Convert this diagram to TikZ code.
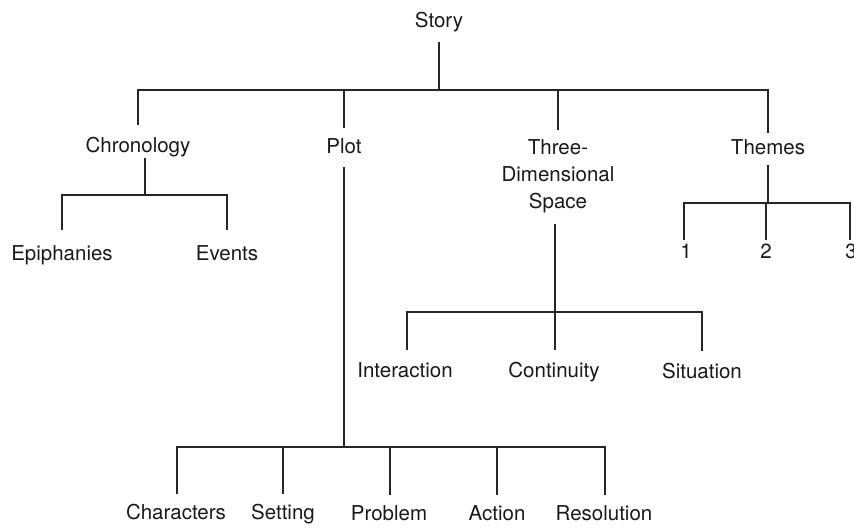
\documentclass[tikz,border=0pt]{standalone}
\usepackage{fontspec}
\setmainfont{TeX Gyre Heros}
\begin{document}
\begin{tikzpicture}[x=1pt,y=-1pt,
  txt/.style={font=\fontsize{20.5}{27}\selectfont, inner sep=0pt, text=black!90},
  lab/.style={txt, anchor=base, text height=15pt, text depth=5pt},
  conn/.style={line width=1.2pt, black!85, line cap=butt}]
\clip (0,0) rectangle (854,528);

% labels
\node[lab] (story) at (439,27) {Story};
\node[lab] (chron) at (138,152) {Chronology};
\node[lab] (plot)  at (344,153) {Plot};
\node[txt, anchor=north, align=center] (tds) at (558,139) {Three-\\Dimensional\\Space};
\node[lab] (themes) at (768,154) {Themes};

\node[lab] (epiph)  at (62,260)  {Epiphanies};
\node[lab] (events) at (227,260) {Events};

\node[lab] (t1) at (686,258) {1};
\node[lab] (t2) at (766,258) {2};
\node[lab] (t3) at (851,258) {3};

\node[lab] (inter) at (405,377) {Interaction};
\node[lab] (cont)  at (554,377) {Continuity};
\node[lab] (situ)  at (702,378) {Situation};

\node[lab] (chars) at (176,519) {Characters};
\node[lab] (sett)  at (283,519) {Setting};
\node[lab] (prob)  at (389,520) {Problem};
\node[lab] (act)   at (497,520) {Action};
\node[lab] (reso)  at (604,520) {Resolution};

% heights of the horizontal bars
\coordinate (b0) at (0,90);
\coordinate (b1) at (0,195);
\coordinate (b2) at (0,203);
\coordinate (b3) at (0,312);
\coordinate (b4) at (0,447);

% Story
\draw[conn] ([yshift=-10pt]story.south) -- (story.south |- b0);
\draw[conn] ([yshift=12pt]chron.north) |- (themes.north |- b0) -- ([yshift=6pt]themes.north);
\draw[conn] (plot.north |- b0) -- ([yshift=10pt]plot.north);
\draw[conn] (tds.north |- b0) -- ([yshift=9pt]tds.north);

% Chronology
\draw[conn] ([xshift=7pt,yshift=-1pt]chron.south) -- ([xshift=7pt]chron.south |- b1);
\draw[conn] ([yshift=15pt]epiph.north) |- (events.north |- b1) -- ([yshift=15pt]events.north);

% Themes
\draw[conn] ([yshift=-6pt]themes.south) -- (themes.south |- b2);
\draw[conn] ([xshift=-2pt,yshift=3pt]t1.north) |- ([xshift=-1pt]t3.north |- b2) -- ([xshift=-1pt,yshift=3pt]t3.north);
\draw[conn] (t2.north |- b2) -- ([yshift=3pt]t2.north);

% Three-Dimensional Space
\draw[conn] ([xshift=-3pt,yshift=-11pt]tds.south) -- ([xshift=-3pt]tds.south |- b3);
\draw[conn] ([xshift=2pt,yshift=12pt]inter.north) |- (situ.north |- b3) -- ([yshift=12pt]situ.north);
\draw[conn] ([xshift=1pt]cont.north |- b3) -- ([xshift=1pt,yshift=12pt]cont.north);

% Plot
\draw[conn] ([yshift=-9pt]plot.south) -- (plot.south |- b4);
\draw[conn] ([xshift=1pt,yshift=10pt]chars.north) |- ([xshift=1pt]reso.north |- b4) -- ([xshift=1pt,yshift=10pt]reso.north);
\draw[conn] (sett.north |- b4) -- ([yshift=10pt]sett.north);
\draw[conn] ([xshift=1pt]prob.north |- b4) -- ([xshift=1pt,yshift=10pt]prob.north);
\draw[conn] (act.north |- b4) -- ([yshift=10pt]act.north);
\end{tikzpicture}
\end{document}
